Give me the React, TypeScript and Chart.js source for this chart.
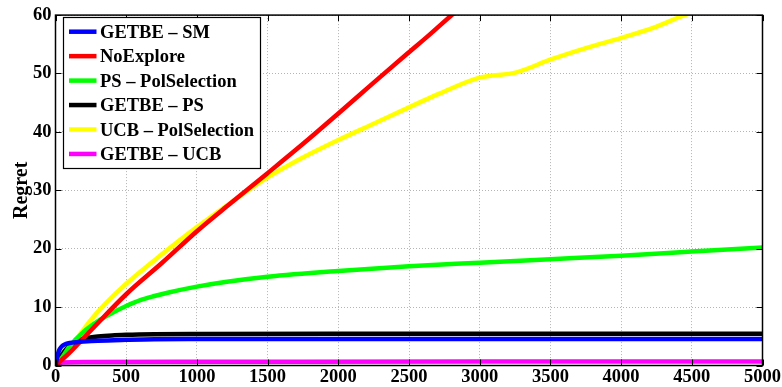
import React, { useEffect, useRef } from "react";
import { Chart, registerables } from "chart.js";

Chart.register(...registerables);

const xTicks = [0, 500, 1000, 1500, 2000, 2500, 3000, 3500, 4000, 4500, 5000];
const yTicks = [0, 10, 20, 30, 40, 50, 60];

const seriesLabels = [
  "GETBE – SM",
  "NoExplore",
  "PS – PolSelection",
  "GETBE – PS",
  "UCB – PolSelection",
  "GETBE – UCB",
];
const seriesColors = ["#0000ff", "#ff0000", "#00ff00", "#000000", "#ffff00", "#ff00ff"];

const smX = [0, 10, 20, 30, 50, 75, 100, 150, 200, 300, 500, 700, 1000, 2000, 3000, 4000, 5000];
const smY = [0, 1.2, 2.2, 2.8, 3.4, 3.7, 3.85, 4.0, 4.1, 4.25, 4.4, 4.5, 4.52, 4.54, 4.55, 4.55, 4.55];

const noX = [0, 100, 250, 500, 750, 1000, 1234, 1493, 1753, 1988, 2248, 2493, 2648, 2802, 3000];
const noY = [0, 2.2, 6.0, 12.2, 17.5, 23.0, 27.7, 32.8, 38.0, 42.9, 48.4, 53.5, 56.7, 60.0, 64.0];

const psX = [0, 50, 100, 200, 300, 400, 500, 600, 700, 800, 1000, 1200, 1500, 2000, 2500, 3000, 3500, 4000, 4500, 5000];
const psY = [0, 1.5, 3.3, 5.8, 7.6, 9.0, 10.2, 11.2, 11.9, 12.5, 13.5, 14.3, 15.2, 16.2, 17.0, 17.6, 18.2, 18.8, 19.5, 20.2];

const gpX = [0, 25, 50, 75, 100, 150, 200, 300, 400, 500, 700, 1000, 2000, 3000, 4000, 5000];
const gpY = [0, 1.0, 2.0, 2.8, 3.4, 4.2, 4.6, 4.95, 5.15, 5.25, 5.35, 5.4, 5.45, 5.45, 5.45, 5.45];

const ucbX = [0, 50, 100, 150, 250, 350, 500, 750, 1000, 1281, 1500, 1750, 2000, 2250, 2500, 2719, 3000, 3261, 3503, 3757, 4003, 4226, 4439, 4600];
const ucbY = [0, 1.5, 3.2, 4.6, 7.8, 10.5, 14.0, 19.0, 23.7, 28.6, 32.2, 35.6, 38.6, 41.4, 44.2, 46.6, 49.3, 50.2, 52.4, 54.4, 56.1, 57.8, 59.9, 61.2];

const guX = [0, 20, 50, 200, 1000, 3000, 5000];
const guY = [0, 0.4, 0.5, 0.6, 0.65, 0.68, 0.7];

const seriesX = [smX, noX, psX, gpX, ucbX, guX];
const seriesY = [smY, noY, psY, gpY, ucbY, guY];

const FONT = "'Liberation Serif', 'Times New Roman', serif";

const boxPlugin = {
  id: "matlabBox",
  afterDatasetsDraw(chart: any) {
    const { ctx, chartArea: a, scales } = chart;
    ctx.save();
    ctx.strokeStyle = "#000";
    ctx.lineWidth = 1;
    const tl = 6;
    ctx.beginPath();
    for (const v of xTicks) {
      const px = Math.round(scales.x.getPixelForValue(v)) + 0.5;
      ctx.moveTo(px, a.bottom);
      ctx.lineTo(px, a.bottom - tl);
      ctx.moveTo(px, a.top);
      ctx.lineTo(px, a.top + tl);
    }
    for (const v of yTicks) {
      const py = Math.round(scales.y.getPixelForValue(v)) + 0.5;
      ctx.moveTo(a.left, py);
      ctx.lineTo(a.left + tl, py);
      ctx.moveTo(a.right, py);
      ctx.lineTo(a.right - tl, py);
    }
    ctx.stroke();
    ctx.lineWidth = 1.5;
    ctx.strokeRect(a.left, a.top, a.right - a.left, a.bottom - a.top);

    // legend
    const lx = 63.5, ly = 17.5, lw = 197, lh = 151;
    ctx.fillStyle = "#fff";
    ctx.fillRect(lx, ly, lw, lh);
    ctx.lineWidth = 1.2;
    ctx.strokeStyle = "#000";
    ctx.strokeRect(lx, ly, lw, lh);
    ctx.font = "bold 18.5px " + FONT;
    ctx.textBaseline = "alphabetic";
    ctx.textAlign = "left";
    chart.data.datasets.forEach((ds: any, i: number) => {
      const cy = 31.7 + i * 24.45;
      ctx.strokeStyle = ds.borderColor;
      ctx.lineWidth = 4.5;
      ctx.lineCap = "butt";
      ctx.beginPath();
      ctx.moveTo(69, cy);
      ctx.lineTo(96.5, cy);
      ctx.stroke();
      ctx.fillStyle = "#000";
      ctx.fillText(ds.label, 100, cy + 6);
    });
    ctx.restore();
  },
};

export default function App() {
  const ref = useRef<HTMLCanvasElement>(null);
  useEffect(() => {
    if (!ref.current) return;
    const datasets = seriesLabels.map((label, i) => ({
      label,
      data: seriesX[i].map((x, j) => ({ x, y: seriesY[i][j] })),
      borderColor: seriesColors[i],
      backgroundColor: seriesColors[i],
      borderWidth: 4.5,
      pointRadius: 0,
      cubicInterpolationMode: "monotone" as const,
      fill: false,
      clip: 0,
    }));
    const chart = new Chart(ref.current, {
      type: "line",
      data: { datasets },
      options: {
        animation: false,
        responsive: true,
        maintainAspectRatio: false,
        layout: { padding: { left: 0, top: 12, right: 19.3, bottom: 0 } },
        plugins: { legend: { display: false }, tooltip: { enabled: false } },
        scales: {
          x: {
            type: "linear",
            min: 0,
            max: 5000,
            afterBuildTicks: (s: any) => {
              s.ticks = xTicks.map((v) => ({ value: v }));
            },
            afterFit: (s: any) => {
              s.height = 21.5;
            },
            ticks: {
              autoSkip: false,
              maxRotation: 0,
              padding: 1,
              color: "#000",
              callback: (v: any) => String(v),
              font: { family: FONT, size: 18.5, weight: "bold" },
            },
            grid: { color: "#b4b4b4", lineWidth: 1, drawTicks: false },
            border: { display: false, dash: [1, 2] },
          },
          y: {
            type: "linear",
            min: 0,
            max: 60,
            afterBuildTicks: (s: any) => {
              s.ticks = yTicks.map((v) => ({ value: v }));
            },
            afterFit: (s: any) => {
              s.width = 55.5;
            },
            ticks: {
              padding: 4,
              color: "#000",
              callback: (v: any) => String(v),
              font: { family: FONT, size: 18.5, weight: "bold" },
            },
            title: {
              display: true,
              text: "Regret",
              color: "#000",
              font: { family: FONT, size: 20, weight: "bold" },
              padding: { top: 10, bottom: 0 },
            },
            grid: { color: "#b4b4b4", lineWidth: 1, drawTicks: false },
            border: { display: false, dash: [1, 2] },
          },
        },
      },
      plugins: [boxPlugin],
    });
    return () => chart.destroy();
  }, []);
  return (
    <div style={{ position: "fixed", left: 0, top: 0, width: 782, height: 387, background: "#fff" }}>
      <canvas ref={ref} />
    </div>
  );
}
